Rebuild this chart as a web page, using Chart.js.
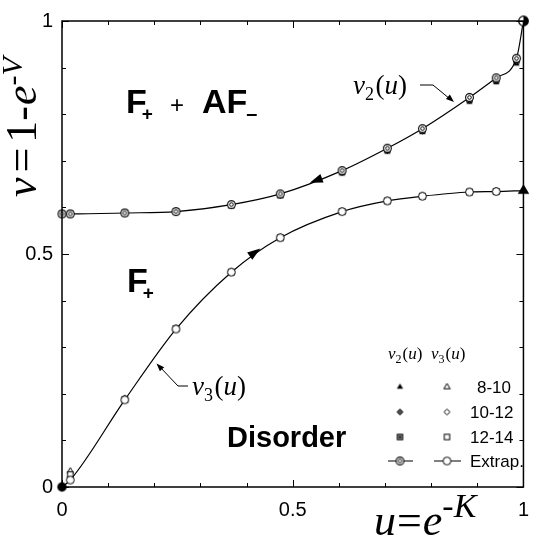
<!DOCTYPE html>
<html>
<head>
<meta charset="utf-8">
<script src="https://cdn.jsdelivr.net/npm/chart.js@4/dist/chart.umd.min.js"></script>
<style>
  html, body { margin: 0; padding: 0; background: #fff; }
  #wrap { width: 540px; height: 538px; }
</style>
</head>
<body>
<div id="wrap"><canvas id="c"></canvas></div>
<script>
// u = e^-K on x, v = 1 - e^-V on y
const uV2 = [0, 0.018, 0.136, 0.247, 0.367, 0.473, 0.607, 0.705, 0.781, 0.883, 0.941, 0.985, 1];
const v2Extrap = [0.586, 0.586, 0.588, 0.591, 0.606, 0.629, 0.679, 0.727, 0.769, 0.836, 0.878, 0.920, 1];
const v2L10 = [0.586, 0.586, 0.587, 0.590, 0.603, 0.624, 0.672, 0.719, 0.761, 0.826, 0.868, 0.908];
const v2L12 = [0.586, 0.586, 0.587, 0.590, 0.604, 0.626, 0.675, 0.722, 0.764, 0.830, 0.872, 0.913];
const v2L14 = [0.586, 0.586, 0.588, 0.591, 0.605, 0.627, 0.677, 0.724, 0.766, 0.832, 0.874, 0.916];

const uV3 = [0, 0.018, 0.136, 0.247, 0.367, 0.473, 0.607, 0.705, 0.781, 0.883, 0.941, 1];
const v3Extrap = [0, 0.015, 0.187, 0.339, 0.461, 0.535, 0.591, 0.614, 0.624, 0.633, 0.634, 0.636];
const v3L10 = [null, 0.034, 0.190, 0.341, 0.462, 0.536, 0.592, 0.615, 0.625, 0.634, 0.635];
const v3L12 = [null, 0.021, 0.189, 0.340, 0.462, 0.535, 0.591, 0.614, 0.624, 0.633, 0.634];
const v3L14 = [null, 0.027, 0.188, 0.340, 0.461, 0.535, 0.591, 0.614, 0.624, 0.633, 0.634];

const axisLabels = [0, 0.5, 1];

const SANS = '"Liberation Sans", Arial, sans-serif';
const SERIF = '"Liberation Serif", "Times New Roman", serif';

// ---- marker bitmaps ----
function makeMark(size, paint) {
  const c = document.createElement('canvas');
  c.width = c.height = size;
  const g = c.getContext('2d');
  g.translate(size / 2, size / 2);
  g.lineWidth = 1;
  g.strokeStyle = '#000';
  paint(g);
  return c;
}
function triPath(g, r) {
  g.beginPath();
  g.moveTo(0, -r); g.lineTo(r * 0.87, r * 0.5); g.lineTo(-r * 0.87, r * 0.5);
  g.closePath();
}
function diaPath(g, r) {
  g.beginPath();
  g.moveTo(0, -r); g.lineTo(r, 0); g.lineTo(0, r); g.lineTo(-r, 0);
  g.closePath();
}
function circ(g, r) { g.beginPath(); g.arc(0, 0, r, 0, Math.PI * 2); }

const MK = {
  triFill: makeMark(9, g => { triPath(g, 3.6); g.fillStyle = '#000'; g.fill(); }),
  diaFill: makeMark(9, g => { diaPath(g, 3); g.fillStyle = '#555'; g.fill(); g.stroke(); }),
  sqFill: makeMark(9, g => { g.fillStyle = '#888'; g.fillRect(-2.7, -2.7, 5.4, 5.4); g.strokeRect(-2.7, -2.7, 5.4, 5.4); g.fillStyle = '#000'; g.fillRect(-1, -1, 2, 2); }),
  ring: makeMark(11, g => { circ(g, 3.9); g.fillStyle = '#fff'; g.fill(); g.lineWidth = 1.1; g.stroke(); circ(g, 1.8); g.lineWidth = 1; g.stroke(); }),
  triOpen: makeMark(9, g => { triPath(g, 3.6); g.fillStyle = '#fff'; g.fill(); g.stroke(); }),
  diaOpen: makeMark(9, g => { diaPath(g, 3); g.fillStyle = '#fff'; g.fill(); g.stroke(); }),
  sqOpen: makeMark(9, g => { g.fillStyle = '#fff'; g.fillRect(-2.7, -2.7, 5.4, 5.4); g.strokeRect(-2.7, -2.7, 5.4, 5.4); }),
  circOpen: makeMark(11, g => { circ(g, 3.9); g.fillStyle = '#fff'; g.fill(); g.stroke(); }),
  dot: makeMark(13, g => { circ(g, 4.7); g.fillStyle = '#000'; g.fill(); }),
  half: makeMark(13, g => {
    circ(g, 4.8); g.fillStyle = '#fff'; g.fill();
    g.beginPath(); g.arc(0, 0, 4.8, -Math.PI / 2, Math.PI / 2); g.closePath(); g.fillStyle = '#000'; g.fill();
    circ(g, 4.8); g.lineWidth = 1.2; g.stroke();
  }),
  bigTri: makeMark(15, g => { triPath(g, 6.6); g.fillStyle = '#000'; g.fill(); })
};

const pts = (us, vs) => us.slice(0, vs.length).map((u, i) => ({ x: u, y: vs[i] })).filter(p => p.y !== null);

function scatter(data, mark, order) {
  return { data, showLine: false, pointStyle: mark, pointRadius: 3, clip: false, order };
}
function curve(data, mark, order) {
  return {
    data, showLine: true, borderColor: '#000', borderWidth: 1.2,
    cubicInterpolationMode: 'monotone', pointStyle: mark,
    pointRadius: data.map((p, i) => (i === 0 && p.y === 0) || i === data.length - 1 ? 0 : 3),
    clip: false, order
  };
}

const v2Line = pts(uV2, v2Extrap);
const v3Line = pts(uV3, v3Extrap);

// ---- drawing helpers ----
function rich(ctx, x, y, parts) {
  let cx = x;
  parts.forEach(p => {
    ctx.font = p.f;
    cx += p.pre || 0;
    ctx.fillText(p.t, cx, y + (p.dy || 0));
    cx += ctx.measureText(p.t).width + (p.gap || 0);
  });
  return cx;
}
function arrowHead(ctx, x, y, ang, len, half) {
  ctx.save();
  ctx.translate(x, y);
  ctx.rotate(ang);
  ctx.beginPath();
  ctx.moveTo(0, 0); ctx.lineTo(-len, half); ctx.lineTo(-len, -half);
  ctx.closePath();
  ctx.fill();
  ctx.restore();
}
function funcLabel(ctx, x, y, idx, size) {
  const sub = Math.round(size * 0.68);
  rich(ctx, x, y, [
    { t: 'v', f: `italic ${size}px ${SERIF}` },
    { t: idx, f: `${sub}px ${SERIF}`, dy: size * 0.22, gap: size * 0.06 },
    { t: '(', f: `${size}px ${SERIF}` },
    { t: 'u', f: `italic ${size}px ${SERIF}` },
    { t: ')', f: `${size}px ${SERIF}` }
  ]);
}

const decor = {
  id: 'decor',
  afterDraw(chart) {
    const { ctx, chartArea: a, scales: { x, y } } = chart;
    ctx.save();
    ctx.strokeStyle = '#000';
    ctx.fillStyle = '#000';

    // frame
    ctx.lineWidth = 1.5;
    ctx.strokeRect(a.left, a.top, a.right - a.left, a.bottom - a.top);

    // inward ticks on all four sides
    ctx.lineWidth = 1;
    x.ticks.forEach(t => {
      const major = axisLabels.some(v => Math.abs(v - t.value) < 1e-6);
      const len = major ? 7 : 4;
      const px = Math.round(x.getPixelForValue(t.value)) + 0.5;
      ctx.beginPath();
      ctx.moveTo(px, a.bottom); ctx.lineTo(px, a.bottom - len);
      ctx.moveTo(px, a.top); ctx.lineTo(px, a.top + len);
      ctx.stroke();
    });
    y.ticks.forEach(t => {
      const major = axisLabels.some(v => Math.abs(v - t.value) < 1e-6);
      const len = major ? 7 : 4;
      const py = Math.round(y.getPixelForValue(t.value)) + 0.5;
      ctx.beginPath();
      ctx.moveTo(a.left, py); ctx.lineTo(a.left + len, py);
      ctx.moveTo(a.right, py); ctx.lineTo(a.right - len, py);
      ctx.stroke();
    });

    // arrows along the curves
    const P = (u, v) => [x.getPixelForValue(u), y.getPixelForValue(v)];
    const dirAng = (p, q) => Math.atan2(q[1] - p[1], q[0] - p[0]);
    const up = P(0.550, 0.657);
    arrowHead(ctx, up[0] - 6, up[1] + 2, dirAng(P(uV2[6], v2Extrap[6]), P(uV2[5], v2Extrap[5])), 13, 4.5);
    const lo = P(0.419, 0.503);
    arrowHead(ctx, lo[0] + 5, lo[1] - 4, dirAng(P(uV3[4], v3Extrap[4]), P(uV3[5], v3Extrap[5])), 13, 4.5);

    // curve name annotations
    funcLabel(ctx, 353, 94, '2', 27);
    ctx.lineWidth = 1;
    ctx.beginPath();
    ctx.moveTo(420, 85); ctx.lineTo(433, 85); ctx.lineTo(450, 99);
    ctx.stroke();
    arrowHead(ctx, 454, 102, Math.atan2(17, 20), 8, 3);

    funcLabel(ctx, 192, 395, '3', 27);
    ctx.beginPath();
    ctx.moveTo(188, 386); ctx.lineTo(178, 386); ctx.lineTo(160, 367);
    ctx.stroke();
    arrowHead(ctx, 156.5, 363.5, Math.atan2(-22, -21), 8, 3);

    // phase labels
    const B = sz => `bold ${sz}px ${SANS}`;
    rich(ctx, 126, 113, [{ t: 'F', f: B(34), gap: -5 }, { t: '+', f: B(19), dy: 7 }]);
    rich(ctx, 170, 113, [{ t: '+', f: `24px ${SANS}` }]);
    rich(ctx, 202, 113, [{ t: 'AF', f: B(34), gap: -1 }, { t: '\u2013', f: B(20), dy: 7 }]);
    rich(ctx, 127, 292, [{ t: 'F', f: B(34), gap: -5 }, { t: '+', f: B(19), dy: 7 }]);
    ctx.font = B(29);
    ctx.fillText('Disorder', 227, 447);

    // axis titles
    rich(ctx, 374, 535, [
      { t: 'u', f: `italic 44px ${SERIF}` },
      { t: '=', f: `44px ${SERIF}`, pre: 1, gap: 1 },
      { t: 'e', f: `italic 44px ${SERIF}` },
      { t: '-', f: `34px ${SERIF}`, dy: -18 },
      { t: 'K', f: `italic 34px ${SERIF}`, dy: -18 }
    ]);
    ctx.save();
    ctx.translate(36, 197);
    ctx.rotate(-Math.PI / 2);
    rich(ctx, 0, 0, [
      { t: 'v', f: `italic 44px ${SERIF}`, gap: 5 },
      { t: '=', f: `44px ${SERIF}`, gap: 5 },
      { t: '1-', f: `44px ${SERIF}`, gap: 1 },
      { t: 'e', f: `italic 44px ${SERIF}` },
      { t: '-', f: `30px ${SERIF}`, dy: -14 },
      { t: 'V', f: `italic 30px ${SERIF}`, dy: -14 }
    ]);
    ctx.restore();

    // legend
    funcLabel(ctx, 388, 359, '2', 17);
    funcLabel(ctx, 431, 359, '3', 17);
    const rows = [
      [MK.triFill, MK.triOpen, '8-10', 477, 387],
      [MK.diaFill, MK.diaOpen, '10-12', 470, 412],
      [MK.sqFill, MK.sqOpen, '12-14', 470, 437],
      [MK.ring, MK.circOpen, 'Extrap.', 470, 461]
    ];
    rows.forEach(([m2, m3, txt, tx, ry], i) => {
      if (i === rows.length - 1) {
        ctx.lineWidth = 1.2;
        ctx.beginPath();
        ctx.moveTo(388, ry); ctx.lineTo(413, ry);
        ctx.moveTo(434, ry); ctx.lineTo(461, ry);
        ctx.stroke();
      }
      ctx.drawImage(m2, 400 - m2.width / 2, ry - m2.height / 2);
      ctx.drawImage(m3, 447 - m3.width / 2, ry - m3.height / 2);
      ctx.font = `17px ${SANS}`;
      ctx.fillText(txt, tx, ry + 6);
    });
    ctx.restore();
  }
};

const tickLabel = v => {
  const hit = axisLabels.find(l => Math.abs(l - v) < 1e-6);
  return hit === undefined ? '' : String(hit);
};

new Chart(document.getElementById('c'), {
  type: 'scatter',
  plugins: [decor],
  data: {
    datasets: [
      // special end points
      scatter([{ x: uV3[0], y: v3Extrap[0] }], MK.dot, 0),
      scatter([v2Line[v2Line.length - 1]], MK.half, 0),
      scatter([v3Line[v3Line.length - 1]], MK.bigTri, 0),
      // v2(u): extrapolation and finite sizes
      curve(v2Line, MK.ring, 1),
      scatter(pts(uV2, v2L14), MK.sqFill, 2),
      scatter(pts(uV2, v2L12), MK.diaFill, 3),
      scatter(pts(uV2, v2L10), MK.triFill, 4),
      // v3(u)
      curve(v3Line, MK.circOpen, 1),
      scatter(pts(uV3, v3L14), MK.sqOpen, 2),
      scatter(pts(uV3, v3L12), MK.diaOpen, 3),
      scatter(pts(uV3, v3L10), MK.triOpen, 4)
    ]
  },
  options: {
    responsive: true,
    maintainAspectRatio: false,
    animation: false,
    devicePixelRatio: 1,
    layout: { padding: { left: 0, right: 9, top: 17, bottom: 0 } },
    plugins: { legend: { display: false }, tooltip: { enabled: false } },
    scales: {
      x: {
        type: 'linear', min: 0, max: 1,
        afterFit: s => { s.height = 51; },
        grid: { display: false, drawTicks: false },
        border: { display: false },
        ticks: {
          stepSize: 0.1, autoSkip: false, maxRotation: 0, padding: 11,
          color: '#000', font: { family: SANS, size: 20 }, callback: tickLabel
        }
      },
      y: {
        type: 'linear', min: 0, max: 1,
        afterFit: s => { s.width = 62; },
        grid: { display: false, drawTicks: false },
        border: { display: false },
        ticks: {
          stepSize: 0.1, autoSkip: false, padding: 9,
          color: '#000', font: { family: SANS, size: 20 }, callback: tickLabel
        }
      }
    }
  }
});
</script>
</body>
</html>
